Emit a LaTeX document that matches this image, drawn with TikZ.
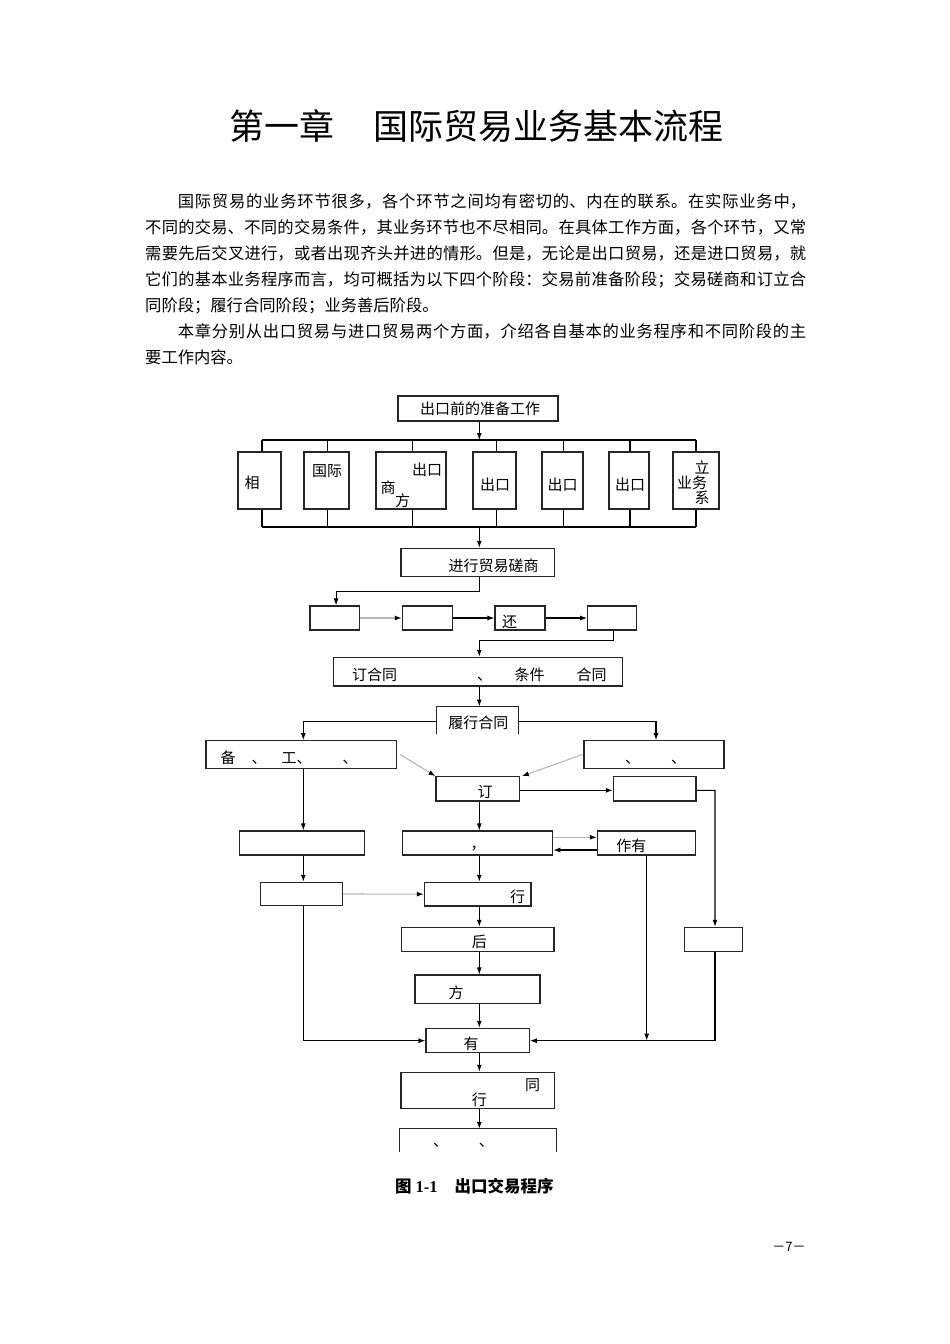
\documentclass[tikz,border=0pt]{standalone}
\usepackage{fontspec}
\setmainfont{Noto Sans CJK SC}
\newfontfamily\tmsfont{Liberation Serif}
\usetikzlibrary{arrows.meta}
\XeTeXlinebreaklocale "zh"
\XeTeXlinebreakskip=0pt plus 1.5pt
\newcommand\mkbox[5]{\node[box,minimum width={(#4-#2)*1pt},minimum height={(#5-#3)*1pt}] (#1) at ({(#2+#4)/2},{(#3+#5)/2}) {};}
\newcommand\mkopen[5]{\node[inner sep=0,minimum width={(#4-#2)*1pt},minimum height={(#5-#3)*1pt}] (#1) at ({(#2+#4)/2},{(#3+#5)/2}) {};
  \draw[boxline] (#1.south west) -- (#1.north west) -- (#1.north east) -- (#1.south east);}
\newcommand\lbltxt[4]{\node[lbl] (#1) at (#2,{#3+5.7}) {#4};}
\begin{document}
\begin{tikzpicture}[x=1pt,y=-1pt,
  boxline/.style={draw=black!85,line width=1.1pt},
  box/.style={boxline,rectangle,inner sep=0},
  lbl/.style={inner sep=0,anchor=base,font=\fontsize{15}{15}\selectfont},
  ln/.style={line width=1.1pt},
  arr/.style={-{Latex[length=7pt,width=5pt]},line width=1.1pt},
  garr/.style={-{Latex[length=7pt,width=5pt,color=black]},line width=1.1pt,draw=black!28}]
\fill[white] (0,0) rectangle (950,1344);
\useasboundingbox (0,0) rectangle (950,1344);

% title and text
\node[anchor=base,inner sep=0,font=\fontsize{35}{35}\selectfont] (title) at (476.5,139.5) {第一章\hspace{39pt}国际贸易业务基本流程};
\node[anchor=base west,inner sep=0,text width=661pt,align=justify,font=\fontsize{16.3}{26}\selectfont] (para) at (145,207.3) {\hspace*{2em}国际贸易的业务环节很多，各个环节之间均有密切的、内在的联系。在实际业务中，\linebreak
不同的交易、不同的交易条件，其业务环节也不尽相同。在具体工作方面，各个环节，又常\linebreak
需要先后交叉进行，或者出现齐头并进的情形。但是，无论是出口贸易，还是进口贸易，就\linebreak
它们的基本业务程序而言，均可概括为以下四个阶段：交易前准备阶段；交易磋商和订立合\linebreak
同阶段；履行合同阶段；业务善后阶段。\par
\hspace*{2em}本章分别从出口贸易与进口贸易两个方面，介绍各自基本的业务程序和不同阶段的主\linebreak
要工作内容。};

% boxes
\mkbox{top}{398}{396}{558}{421}
\mkbox{b1}{238}{452}{281}{509}
\mkbox{b2}{304}{452}{349}{509}
\mkbox{b3}{376}{452}{446}{509}
\mkbox{b4}{473}{452}{516}{509}
\mkbox{b5}{542}{452}{583}{509}
\mkbox{b6}{609}{452}{649}{509}
\mkbox{b7}{673}{452}{719}{509}
\mkbox{neg}{401}{548.3}{554.3}{576.7}
\mkbox{qa}{310}{606}{359.3}{630}
\mkbox{qb}{402.3}{606}{452.3}{630}
\mkbox{qc}{495}{606}{545}{630}
\mkbox{qd}{587.7}{606}{636.7}{630}
\mkbox{con}{333.3}{657.3}{622.3}{686}
\mkopen{perf}{437}{706.7}{518.7}{733.3}
\mkbox{lb}{206}{740.7}{396.7}{768.3}
\mkbox{rb}{584}{740.7}{724}{768.3}
\mkbox{ding}{436}{776.7}{519.3}{801}
\mkbox{r1}{613.3}{776.7}{696}{801}
\mkbox{l2}{239.3}{831}{364.3}{855}
\mkbox{c2}{402.7}{831}{552.7}{855}
\mkbox{r2}{597.3}{831}{695.7}{855}
\mkbox{l3}{260.7}{882.3}{342.7}{905.7}
\mkbox{c3}{424.3}{882.3}{531}{906}
\mkbox{c4}{401.7}{927.3}{554}{951.3}
\mkbox{r4}{684.3}{927.3}{742.3}{951.3}
\mkbox{c5}{415}{975}{540}{1003.3}
\mkbox{you}{426}{1028.3}{529.3}{1052.3}
\mkbox{e1}{401}{1072.3}{554.3}{1108.3}
\mkopen{e2}{400}{1129}{556}{1151.7}

% labels
\lbltxt{ttop}{480}{409}{出口前的准备工作}
\lbltxt{t1}{252}{483}{相}
\lbltxt{t2}{327}{471}{国际}
\lbltxt{t3a}{427}{470}{出口}
\lbltxt{t3b}{388}{488}{商}
\lbltxt{t3c}{402.5}{501}{方}
\lbltxt{t4}{495}{485}{出口}
\lbltxt{t5}{562.5}{485}{出口}
\lbltxt{t6}{630}{485}{出口}
\lbltxt{t7a}{702}{468}{立}
\lbltxt{t7b}{692}{483}{业务}
\lbltxt{t7c}{702}{498}{系}
\lbltxt{tneg}{493.7}{566}{进行贸易磋商}
\lbltxt{tqc}{509.5}{621.7}{还}
\lbltxt{tcon1}{374.5}{675}{订合同}
\lbltxt{tcon2}{484.7}{675}{、}
\lbltxt{tcon3}{529.7}{675}{条件}
\lbltxt{tcon4}{591.7}{675}{合同}
\lbltxt{tperf}{478.3}{722.7}{履行合同}
\lbltxt{tlb1}{228}{757.5}{备}
\lbltxt{tlb2}{259}{757.5}{、}
\lbltxt{tlb3}{296.5}{757.5}{工、}
\lbltxt{tlb4}{350}{757.5}{、}
\lbltxt{trb1}{632.7}{757.5}{、}
\lbltxt{trb2}{678.5}{757.5}{、}
\lbltxt{tding}{485}{791.7}{订}
\lbltxt{tc2}{478}{844}{，}
\lbltxt{tr2}{631.3}{846}{作有}
\lbltxt{tc3}{517.5}{896.7}{行}
\lbltxt{tc4}{479.3}{941.7}{后}
\lbltxt{tc5}{456}{992.7}{方}
\lbltxt{tyou}{471}{1043.3}{有}
\lbltxt{te1a}{532.5}{1085}{同}
\lbltxt{te1b}{479.3}{1100}{行}
\lbltxt{te2a}{440.7}{1141}{、}
\lbltxt{te2b}{486.3}{1141}{、}

% connectors
\coordinate (busT) at (479.3,440);
\coordinate (busB) at (479.3,527);
\draw[arr] (top.south -| busT) -- (busT);
\foreach \n/\d in {b1/2.5,b2/1.2,b3/1.3,b4/2.2,b5/0.8,b6/1,b7/0} {
  \draw[ln] ([xshift=\d pt]\n.north) -- ([xshift=\d pt]\n.north |- busT);
  \draw[ln] ([xshift=\d pt]\n.south) -- ([xshift=\d pt]\n.south |- busB);
}
\draw[ln] ([xshift=2.5pt]b1.north |- busT) -- (b7.north |- busT);
\draw[ln] ([xshift=2.5pt]b1.south |- busB) -- (b7.south |- busB);
\draw[arr] (busB) -- (busB |- neg.north);
\draw[arr] (neg.south -| busB) -- ++(0,14) -| ([xshift=1.4pt]qa.north);
\draw[garr] (qa.east) -- (qb.west);
\draw[arr] (qb.east) -- (qc.west);
\draw[arr] (qc.east) -- (qd.west);
\draw[arr] ([xshift=1pt]qd.south) -- ++(0,10) -| (con.north -| busB);
\draw[arr] (con.south -| busB) -- (perf.north -| busB);
\coordinate (pl) at (303.3,721.7);
\coordinate (pr) at (656,721.7);
\draw[arr] (perf.west |- pl) -| (lb.north -| pl);
\draw[arr] (perf.east |- pr) -| (rb.north -| pr);
\draw[garr] ([xshift=3pt]lb.east) -- (ding.north west);
\draw[garr] ([xshift=-1pt]rb.west) -- ([xshift=2pt]ding.north east);
\draw[arr] ([yshift=-1.5pt]ding.east) -- ([yshift=-1.5pt]r1.west);
\coordinate (rr) at (715,790.4);
\draw[arr] ([yshift=-1.5pt]r1.east) -- (rr) -- (r4.north -| rr);
\draw[arr] (ding.south -| busB) -- (c2.north -| busB);
\draw[arr] (lb.south -| pl) -- (l2.north -| pl);
\draw[garr] ([yshift=5.7pt]c2.east) -- ([yshift=5.7pt]r2.west);
\draw[arr] ([yshift=-7pt]r2.west) -- ([yshift=-7pt]c2.east);
\draw[arr] (l2.south -| pl) -- (l3.north -| pl);
\draw[garr] (l3.east) -- (c3.west);
\draw[arr] (c2.south -| busB) -- (c3.north -| busB);
\draw[arr] (c3.south -| busB) -- (c4.north -| busB);
\draw[arr] (c4.south -| busB) -- (c5.north -| busB);
\draw[arr] (c5.south -| busB) -- (you.north -| busB);
\coordinate (yb) at (479.3,1040.7);
\draw[arr] (l3.south -| pl) |- (you.west |- yb);
\draw[arr] (r4.south -| rr) |- (you.east |- yb);
\coordinate (r2x) at (646.7,859);
\draw[arr] (r2.south -| r2x) -- (yb -| r2x);
\draw[arr] (you.south -| busB) -- (e1.north -| busB);
\draw[arr] (e1.south -| busB) -- (e2.north -| busB);

% caption and page number
\node[anchor=base west,inner sep=0,font=\fontsize{16.5}{16.5}\selectfont\bfseries] (cap) at (395,1192.5) {图\hspace{4pt}{\tmsfont 1-1}\hspace{17pt}出口交易程序};
\node[inner sep=0,font=\fontsize{13}{13}\selectfont] (pg) at (789,1247) {－7－};
\end{tikzpicture}
\end{document}
